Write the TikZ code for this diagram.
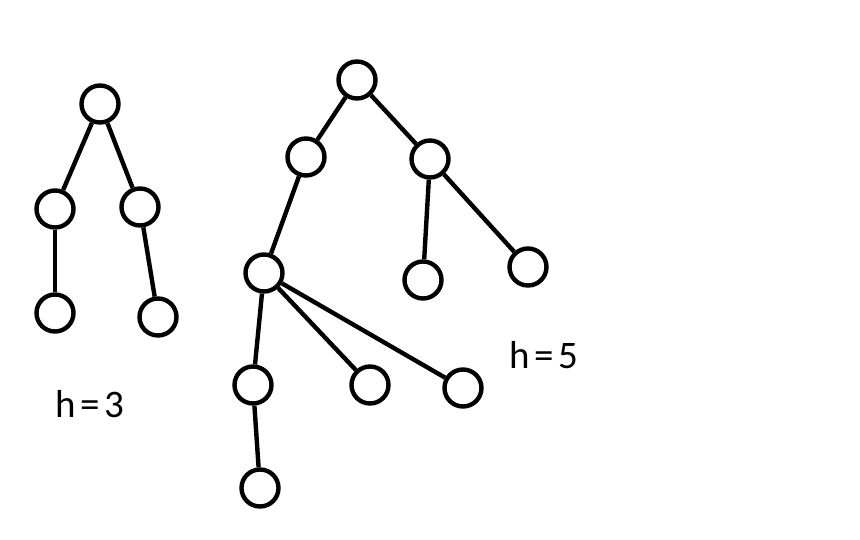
\documentclass[tikz,border=0pt]{standalone}
\usepackage{fontspec}
\setmainfont{Carlito}
\newfontfamily\labelfont[LetterSpace=12]{Carlito}
\begin{document}
\begin{tikzpicture}[x=1pt,y=-1pt,
  vertex/.style={circle,draw=black,line width=4.4pt,minimum size=37pt,inner sep=0pt},
  edge/.style={draw=black,line width=4.4pt},
  heightlabel/.style={font=\labelfont\fontsize{39}{40}\selectfont,anchor=base west,inner sep=0pt}]
\useasboundingbox (0,0) rectangle (860,540);
% tree of height 3
\node[vertex] (a) at (100,104) {};
\node[vertex] (a1) at (55,209) {};
\node[vertex] (a2) at (140,207) {};
\node[vertex] (a11) at (55,313) {};
\node[vertex] (a21) at (158,317) {};
\draw[edge] (a) -- (a1);
\draw[edge] (a) -- (a2);
\draw[edge] (a1) -- (a11);
\draw[edge] (a2) -- (a21);
\node[heightlabel] (ha) at (55,417) {h=3};
% tree of height 5
\node[vertex] (b) at (357,80) {};
\node[vertex] (b1) at (306,157) {};
\node[vertex] (b2) at (430,159) {};
\node[vertex] (b11) at (264,273) {};
\node[vertex] (b21) at (423,280) {};
\node[vertex] (b22) at (528,267) {};
\node[vertex] (b111) at (253,385) {};
\node[vertex] (b112) at (370,385) {};
\node[vertex] (b113) at (463,388) {};
\node[vertex] (b1111) at (260,488) {};
\draw[edge] (b) -- (b1);
\draw[edge] (b) -- (b2);
\draw[edge] (b1) -- (b11);
\draw[edge] (b2) -- (b21);
\draw[edge] (b2) -- (b22);
\draw[edge] (b11) -- (b111);
\draw[edge] (b11) -- (b112);
\draw[edge] (b11) -- (b113);
\draw[edge] (b111) -- (b1111);
\node[heightlabel] (hb) at (509,368) {h=5};
\end{tikzpicture}
\end{document}
